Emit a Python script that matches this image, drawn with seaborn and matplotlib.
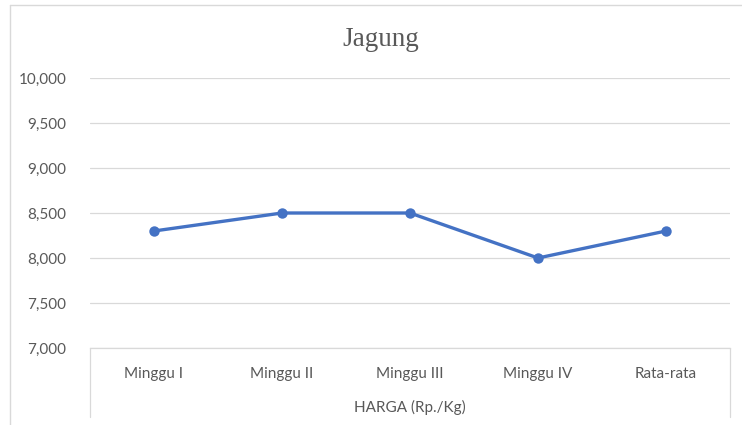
import matplotlib
matplotlib.use("Agg")
import matplotlib.pyplot as plt
import seaborn as sns
import pandas as pd
from matplotlib.lines import Line2D
from matplotlib.ticker import FuncFormatter

# data
minggu = ["Minggu I", "Minggu II", "Minggu III", "Minggu IV", "Rata-rata"]
harga = [8300, 8500, 8500, 8000, 8300]
y_ticks = [7000, 7500, 8000, 8500, 9000, 9500, 10000]

df = pd.DataFrame({"minggu": minggu, "harga": harga})

sns.set_style("white")
plt.rcParams['font.family'] = ['Lato', 'DejaVu Sans']

fig = plt.figure(figsize=(7.42, 4.25), dpi=100)
ax = fig.add_axes([90 / 742, 1 - 348 / 425, 640 / 742, 270 / 425])

grid_c = "#D9D9D9"
text_c = "#595959"

sns.lineplot(data=df, x="minggu", y="harga", ax=ax, color="#4472C4",
             linewidth=2.4, marker="o", markersize=7.5, markeredgewidth=0,
             sort=False)

ax.set_xlim(-0.5, len(minggu) - 0.5)
ax.set_ylim(7000, 10000)
ax.set_yticks(y_ticks)
ax.yaxis.set_major_formatter(FuncFormatter(lambda v, p: f"{int(v):,}"))
ax.grid(axis="y", color=grid_c, linewidth=0.9)
ax.set_axisbelow(True)
for s in ["top", "right", "left"]:
    ax.spines[s].set_visible(False)
ax.spines["bottom"].set_color(grid_c)
ax.spines["bottom"].set_linewidth(0.9)

ax.tick_params(axis="y", length=0, pad=17, labelsize=11, labelcolor=text_c)
ax.tick_params(axis="x", length=0, pad=13.5, labelsize=11, labelcolor=text_c)
ax.set_xlabel("HARGA (Rp./Kg)", fontsize=11, color=text_c, labelpad=14)
ax.set_ylabel("")

# category box edges below the axis
for xa in [0, 1]:
    ax.plot([xa, xa], [0, -69 / 270], transform=ax.transAxes, color=grid_c,
            linewidth=0.9, clip_on=False)

fig.text(381 / 742, 1 - 40 / 425, "Jagung", ha="center", va="center",
         fontsize=19.5, family="Liberation Serif", color=text_c)

# chart border
fig.add_artist(Line2D([9.5 / 742, 9.5 / 742], [0, 1 - 5 / 425], transform=fig.transFigure,
                      color=grid_c, linewidth=1))
fig.add_artist(Line2D([9.5 / 742, 1], [1 - 5 / 425, 1 - 5 / 425], transform=fig.transFigure,
                      color=grid_c, linewidth=1))

fig.savefig("out.png", dpi=100)
